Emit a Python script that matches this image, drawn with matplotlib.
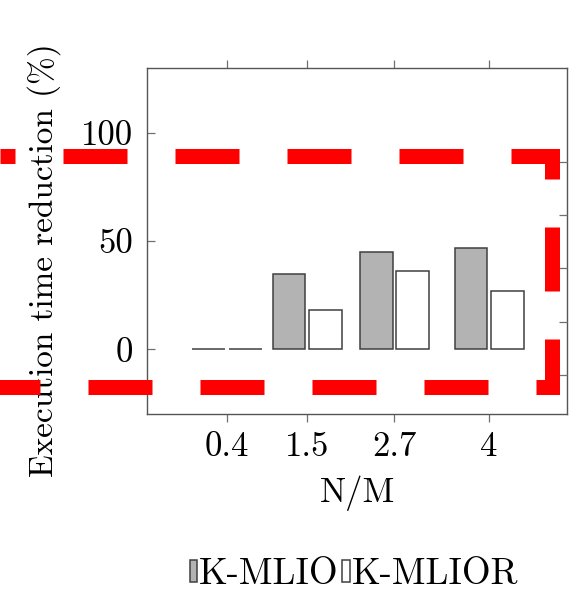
import numpy as np
import matplotlib.pyplot as plt
from matplotlib.lines import Line2D

plt.rcParams['font.family'] = 'cmr10'
plt.rcParams['mathtext.fontset'] = 'cm'
plt.rcParams['axes.unicode_minus'] = False
plt.rcParams['lines.scale_dashes'] = False

# data
ratios = [0.4, 1.5, 2.7, 4]
ratio_labels = ['0.4', '1.5', '2.7', '4']
kmlio = [0, 35, 45, 47]
kmlior = [0, 18, 36, 27]
y_ticks = [0, 50, 100]
right_ticks = [-11.9, 12.6, 37.5, 62, 86.5]

W, H = 578, 594
fig = plt.figure(figsize=(W / 100, H / 100), dpi=100)
ax = fig.add_axes([147.3 / W, 1 - 414 / H, (567 - 147.3) / W, (414 - 68.3) / H])

x = np.array(ratios)
bw = 0.45
edge = '#404040'
ax.bar(x - 0.25, kmlio, bw, color='#b3b3b3', edgecolor=edge, lw=1.1, label='K-MLIO')
ax.bar(x + 0.25, kmlior, bw, color='white', edgecolor=edge, lw=1.1, label='K-MLIOR')

ax.set_xlim(-0.695, 5.07)
ax.set_ylim(-30, 130)
ax.set_xticks(ratios)
ax.set_xticklabels(ratio_labels)
ax.set_yticks(y_ticks)

for s in ax.spines.values():
    s.set_color('#555555')
    s.set_linewidth(1.0)

ax.tick_params(axis='x', direction='out', length=5.5, width=0.9, color='#707070',
               top=True, labelsize=25, pad=7)
ax.tick_params(axis='y', direction='in', length=6, width=0.9, color='#707070',
               labelsize=25, pad=10)

ax2 = ax.twinx()
ax2.set_ylim(ax.get_ylim())
ax2.set_yticks(right_ticks)
ax2.tick_params(axis='y', direction='in', length=6, width=0.9, color='#707070',
                labelright=False)
for s in ax2.spines.values():
    s.set_visible(False)

ax.set_xlabel('N/M', fontsize=25, labelpad=9)
ax.set_ylabel('Execution time reduction (%)', fontsize=24)
ax.yaxis.set_label_coords(-0.205, 0.445)

h, l = ax.get_legend_handles_labels()
fig.legend(h, l, loc='center', bbox_to_anchor=(354 / W, 1 - 574 / H), ncol=2,
           frameon=False, fontsize=26.5, handlelength=0.2, handleheight=0.55,
           handletextpad=0.05, columnspacing=0.1, borderpad=0)

# red dashed highlight box (overlay)
px = [0, 552, 552, -60]
py = [156.5, 156.5, 387, 387]
red = Line2D([p / W for p in px], [1 - p / H for p in py], transform=fig.transFigure,
             color='red', lw=10.8, linestyle=(35.28, (46.08, 34.56)),
             dash_capstyle='butt', dash_joinstyle='miter', solid_joinstyle='miter',
             clip_on=False, zorder=10)
fig.add_artist(red)

fig.savefig('out.png', dpi=100)
